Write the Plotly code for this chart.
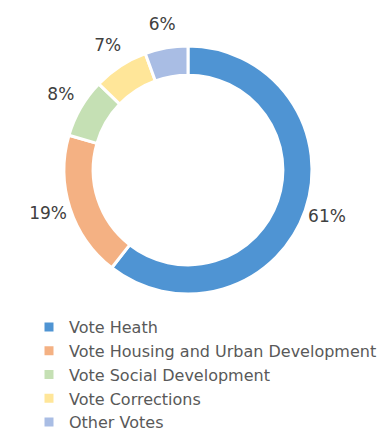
import numpy as np
import plotly.graph_objects as go

labels = ["Vote Heath", "Vote Housing and Urban Development", "Vote Social Development",
          "Vote Corrections", "Other Votes"]
values = [60.6, 19.0, 7.7, 7.2, 5.6]   # share of total, %
colors = ["#4F94D3", "#F4B183", "#C5E0B4", "#FFE699", "#A9BDE4"]

W, H = 392, 432
cx, cy, R = 188, 170, 124      # donut centre / outer radius (px)
R2 = 166                        # label layer radius (px)
LABEL_R = 147                   # radius of label centres (px)

fig = go.Figure()

fig.add_trace(go.Pie(
    labels=labels,
    values=values,
    hole=0.765,
    sort=False,
    direction="clockwise",
    rotation=0,
    marker=dict(colors=colors, line=dict(color="white", width=3)),
    textinfo="none",
    domain=dict(x=[(cx - R) / W, (cx + R) / W], y=[1 - (cy + R) / H, 1 - (cy - R) / H]),
    showlegend=True,
    hoverinfo="label+value",
))

# percentage labels at each slice's mid-angle, via a polar subplot aligned with the donut
vals = np.array(values)
mid_theta = (np.cumsum(vals) - vals / 2) / vals.sum() * 360
fig.add_trace(go.Scatterpolar(
    r=[LABEL_R] * len(values),
    theta=mid_theta,
    mode="text",
    text=[f"{round(v)}%" for v in values],
    textposition="middle center",
    textfont=dict(family="DejaVu Sans", size=17, color="#404040"),
    showlegend=False,
    hoverinfo="skip",
))

fig.update_layout(
    width=W, height=H,
    margin=dict(l=0, r=0, t=0, b=0, autoexpand=False),
    paper_bgcolor="white",
    font=dict(family="DejaVu Sans", size=16, color="#595959"),
    polar=dict(
        domain=dict(x=[(cx - R2) / W, (cx + R2) / W], y=[1 - (cy + R2) / H, 1 - (cy - R2) / H]),
        bgcolor="rgba(0,0,0,0)",
        radialaxis=dict(range=[0, R2], visible=False),
        angularaxis=dict(rotation=90, direction="clockwise", visible=False),
    ),
    legend=dict(x=29 / W, y=1 - 310 / H, xanchor="left", yanchor="top",
                font=dict(family="DejaVu Sans", size=16, color="#595959"),
                itemclick=False, tracegroupgap=0),
)

fig.write_html("out.html")
